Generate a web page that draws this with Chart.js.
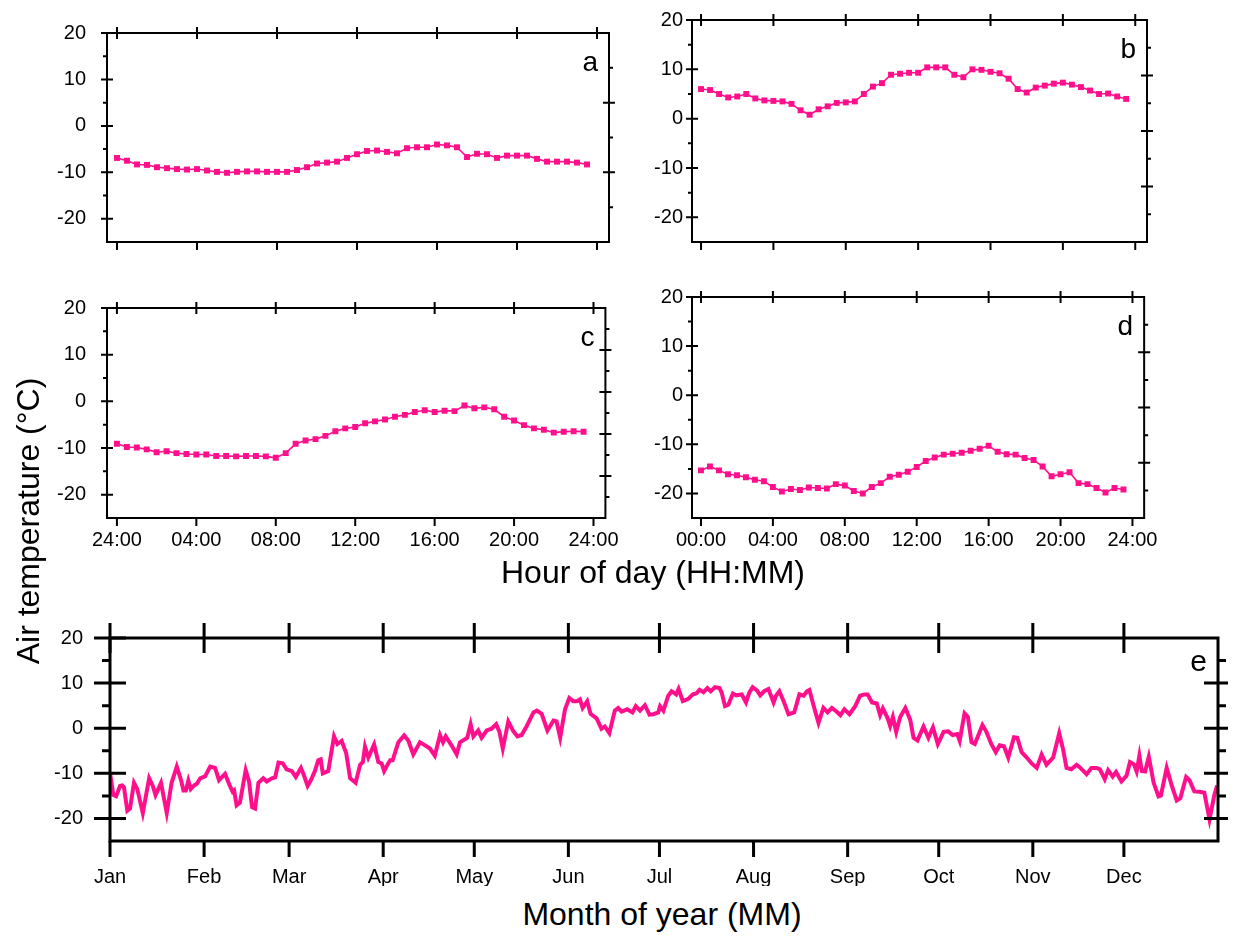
<!DOCTYPE html>
<html>
<head>
<meta charset="utf-8">
<script src="https://cdn.jsdelivr.net/npm/chart.js@4.4.1/dist/chart.umd.min.js"></script>
<style>
  body { margin: 0; background: #fff; }
  #page { position: relative; width: 1247px; height: 936px; overflow: hidden; background: #fff; font-family: "Liberation Sans", Arial, sans-serif; }
  canvas { position: absolute; }
  .title { position: absolute; color: #000; white-space: nowrap; text-align: center; }
</style>
</head>
<body>
<div id="page">
  <canvas id="chartA"></canvas>
  <canvas id="chartB"></canvas>
  <canvas id="chartC"></canvas>
  <canvas id="chartD"></canvas>
  <canvas id="chartE"></canvas>
  <div class="title" style="left:-172px; top:505px; width:400px; font-size:32px; line-height:32px; transform:rotate(-90deg);">Air temperature (°C)</div>
  <div class="title" style="left:453px; top:556px; width:400px; font-size:32px; line-height:32px;">Hour of day (HH:MM)</div>
  <div class="title" style="left:462px; top:898px; width:400px; font-size:32px; line-height:32px;">Month of year (MM)</div>
</div>

<script>
// --- DATA ---

// half-hourly time of day (hours)
const hours = [0, 0.5, 1, 1.5, 2, 2.5, 3, 3.5, 4, 4.5, 5, 5.5, 6, 6.5, 7, 7.5,
               8, 8.5, 9, 9.5, 10, 10.5, 11, 11.5, 12, 12.5, 13, 13.5, 14, 14.5, 15, 15.5,
               16, 16.5, 17, 17.5, 18, 18.5, 19, 19.5, 20, 20.5, 21, 21.5, 22, 22.5, 23, 23.5];

// mean daily cycles, panels a-d (°C)
const tempA = [-6.9, -7.5, -8.3, -8.4, -8.9, -9.1, -9.3, -9.4, -9.3, -9.6, -9.9, -10.1, -9.9, -9.8, -9.8, -9.9,
               -9.9, -9.9, -9.5, -8.9, -8.1, -7.9, -7.7, -6.9, -6.1, -5.4, -5.3, -5.6, -5.9, -4.8, -4.6, -4.6,
               -4.0, -4.2, -4.6, -6.7, -6.0, -6.1, -6.9, -6.4, -6.4, -6.4, -7.1, -7.7, -7.7, -7.7, -7.9, -8.3];
const tempB = [6.0, 5.8, 5.0, 4.3, 4.5, 5.0, 4.1, 3.7, 3.6, 3.5, 3.0, 1.7, 0.8, 1.9, 2.5, 3.2,
               3.3, 3.5, 5.0, 6.5, 7.2, 8.9, 9.1, 9.3, 9.3, 10.4, 10.4, 10.4, 8.9, 8.4, 10.0, 9.9,
               9.5, 9.2, 8.1, 6.0, 5.3, 6.3, 6.7, 7.1, 7.3, 6.9, 6.4, 5.7, 5.0, 5.1, 4.5, 4.0];
const tempC = [-9.1, -9.8, -9.9, -10.3, -10.9, -10.7, -11.1, -11.3, -11.4, -11.4, -11.7, -11.7, -11.8, -11.7, -11.7, -11.8,
               -12.1, -11.1, -9.1, -8.4, -8.1, -7.4, -6.4, -5.8, -5.5, -4.7, -4.3, -3.9, -3.3, -2.9, -2.3, -1.9,
               -2.3, -2.0, -2.1, -0.9, -1.5, -1.3, -1.7, -3.3, -4.1, -5.1, -5.8, -6.1, -6.7, -6.5, -6.4, -6.5];
const tempD = [-15.3, -14.5, -15.3, -16.1, -16.3, -16.7, -17.2, -17.5, -18.7, -19.6, -19.1, -19.3, -18.8, -18.9, -19.0, -18.1,
               -18.4, -19.5, -20.0, -18.7, -17.9, -16.6, -16.2, -15.6, -14.6, -13.4, -12.7, -12.1, -11.9, -11.7, -11.3, -10.9,
               -10.3, -11.5, -12.0, -12.1, -12.8, -13.2, -14.5, -16.5, -16.1, -15.7, -17.9, -18.1, -18.9, -19.8, -18.9, -19.2];

// daily series, panel e (day of year, °C) - read at the turning points of the trace
const eDay = [0, 1.1, 2.0, 3.3, 4.0, 4.6, 5.7, 6.6, 7.9, 9.0, 10.8, 12.9, 14.1, 15.0, 16.8, 18.7, 20.3, 22.0, 23.4, 24.2,
              25.0, 25.8, 26.6, 27.7, 28.6, 29.7, 31.3, 33.0, 34.6, 35.1, 35.9, 37.9, 39.5, 40.4, 40.9, 41.7, 42.8, 44.7, 45.8, 46.8,
              47.8, 48.9, 50.5, 51.6, 53.3, 54.4, 55.5, 56.9, 58.2, 59.9, 61.2, 62.9, 63.7, 65.1, 66.2, 67.5, 68.6, 69.4, 70.1, 71.9,
              73.8, 74.9, 76.3, 77.8, 79.1, 80.9, 82.4, 83.3, 84.0, 85.1, 87.0, 88.4, 89.5, 90.3, 91.4, 92.3, 93.1, 95.0, 96.9, 98.3,
              99.9, 102.1, 103.8, 105.4, 107.0, 108.7, 109.7, 110.6, 112.5, 114.2, 115.3, 117.7, 118.8, 119.7, 121.3, 122.4, 124.1, 125.7, 127.2, 128.3,
              129.4, 131.2, 132.7, 134.2, 135.6, 137.3, 139.5, 140.6, 142.2, 144.1, 145.0, 146.1, 147.1, 148.3, 149.9, 151.3, 152.6, 153.9, 154.8, 155.7,
              157.2, 158.3, 160.3, 161.9, 163.0, 164.5, 166.3, 167.4, 168.5, 170.4, 172.1, 173.2, 174.6, 176.2, 177.7, 179.0, 180.6, 181.2, 182.3, 183.9,
              185.0, 186.5, 187.3, 188.7, 190.5, 192.0, 193.1, 194.2, 195.5, 196.8, 197.9, 199.3, 200.8, 201.5, 202.6, 203.7, 205.2, 206.3, 208.1, 209.5,
              210.6, 211.7, 213.1, 214.2, 215.5, 216.9, 218.6, 219.4, 220.5, 221.9, 223.5, 225.4, 227.1, 228.5, 229.6, 230.4, 232.0, 233.4, 235.0, 236.4,
              237.8, 239.3, 240.6, 241.9, 243.6, 245.5, 247.1, 248.5, 249.6, 251.0, 252.6, 253.7, 254.6, 256.2, 257.0, 257.9, 259.0, 260.3, 262.0, 263.6,
              264.7, 266.0, 268.0, 269.6, 271.1, 272.7, 274.6, 276.1, 277.6, 279.1, 279.9, 281.5, 282.6, 283.8, 284.9, 287.4, 288.7, 290.3, 291.8, 293.1,
              294.5, 295.9, 297.8, 298.9, 300.3, 302.0, 303.6, 305.3, 306.9, 308.5, 310.7, 312.7, 314.0, 315.1, 316.7, 318.4, 319.5, 321.7, 323.3, 325.0,
              326.1, 327.7, 328.8, 330.3, 331.4, 333.2, 334.9, 336.0, 337.3, 338.2, 339.1, 339.9, 341.0, 342.2, 343.8, 345.4, 346.2, 348.1, 349.8, 351.4,
              352.6, 354.5, 355.6, 357.2, 358.9, 360.5, 362.2, 363.8, 364.7];
const eTemp = [-9.8, -14.8, -15.1, -12.8, -12.7, -13.1, -18.3, -17.8, -12.1, -13.5, -18.8, -11.1, -12.8, -14.8, -12.1, -18.8, -12.1, -8.5, -11.5, -13.8,
               -13.8, -11.6, -13.5, -12.7, -12.3, -11.1, -10.7, -8.5, -8.8, -9.8, -11.5, -10.1, -12.8, -14.1, -13.8, -17.1, -16.5, -9.3, -11.8, -17.5,
               -17.8, -12.1, -11.1, -11.8, -11.1, -10.9, -7.6, -7.8, -9.1, -9.5, -10.8, -8.8, -10.1, -12.8, -11.5, -9.5, -7.1, -6.9, -10.0, -9.5,
               -1.8, -3.5, -2.8, -5.5, -11.1, -12.1, -8.1, -7.5, -4.1, -6.5, -3.6, -7.5, -7.8, -9.5, -8.1, -7.1, -7.1, -3.1, -1.6, -2.8,
               -5.8, -3.1, -3.8, -4.5, -6.1, -1.5, -3.1, -1.8, -3.8, -5.8, -3.1, -2.1, 0.9, -1.8, -0.5, -2.1, -0.5, -0.1, 0.9, -0.8,
               -4.5, 1.5, -0.5, -1.8, -1.5, 0.5, 3.5, 3.9, 3.2, -0.5, 0.5, 1.7, 1.5, -2.1, 4.2, 6.7, 6.0, 6.0, 6.4, 4.5,
               6.0, 3.2, 2.2, -0.1, 0.4, -1.1, 3.9, 4.5, 3.7, 4.2, 3.5, 4.9, 3.9, 5.1, 3.0, 3.1, 3.5, 4.9, 3.9, 7.2,
               8.2, 7.5, 8.7, 6.0, 6.5, 7.5, 7.7, 8.5, 8.0, 8.9, 8.2, 9.1, 8.9, 7.9, 4.9, 5.2, 7.7, 7.3, 7.5, 5.7,
               7.9, 9.1, 8.4, 7.3, 8.2, 8.7, 5.7, 7.2, 8.2, 6.0, 3.1, 3.5, 7.5, 7.2, 8.2, 8.5, 4.5, 1.2, 4.5, 3.5,
               4.5, 3.7, 2.9, 4.2, 3.1, 4.9, 7.2, 7.5, 7.5, 5.7, 5.5, 2.9, 4.4, 2.2, 0.5, 2.5, -0.8, 2.5, 4.5, 1.9,
               -2.1, -2.7, 0.4, -2.1, 0.2, -3.5, -0.8, -0.7, -1.5, -1.3, -2.8, 3.3, 2.5, -3.1, -3.5, 0.7, -0.8, -3.5, -5.3, -3.8,
               -4.0, -6.5, -2.0, -2.1, -5.3, -6.5, -7.8, -8.8, -5.8, -8.1, -6.5, -1.1, -4.8, -8.8, -9.1, -8.1, -8.7, -10.2, -8.8, -8.8,
               -9.1, -11.3, -9.3, -10.7, -9.7, -11.8, -10.5, -7.5, -8.0, -9.6, -6.1, -9.5, -9.6, -6.3, -12.1, -15.1, -14.9, -8.8, -12.8, -16.0,
               -15.5, -10.8, -11.5, -14.0, -14.1, -14.3, -20.2, -14.8, -12.7];

// tick labels
const hourTicks = [0, 4, 8, 12, 16, 20, 24];
const hourLabelsC = ['24:00', '04:00', '08:00', '12:00', '16:00', '20:00', '24:00'];
const hourLabelsD = ['00:00', '04:00', '08:00', '12:00', '16:00', '20:00', '24:00'];
const monthTicks = [0, 31, 59, 90, 120, 151, 181, 212, 243, 273, 304, 334];
const monthLabels = ['Jan', 'Feb', 'Mar', 'Apr', 'May', 'Jun', 'Jul', 'Aug', 'Sep', 'Oct', 'Nov', 'Dec'];
const tempTicks = [-20, -10, 0, 10, 20];
const tempMinor = [-15, -5, 5, 15];

// --- STYLE ---
const PINK = '#ff0f8c';
Chart.defaults.font.family = '"Liberation Sans", Arial, sans-serif';
Chart.defaults.font.size = 20;
Chart.defaults.color = '#000';

// Origin-style frame: box, crossing major ticks, outward minor ticks, panel letter
const framePlugin = {
    id: 'frame',
    afterDraw(chart, args, o) {
        const ctx = chart.ctx, a = chart.chartArea;
        const sx = chart.scales.x, sy = chart.scales.y, sy2 = chart.scales.y2;
        ctx.save();
        ctx.strokeStyle = '#000';
        ctx.lineWidth = o.lw;
        ctx.strokeRect(a.left, a.top, a.right - a.left, a.bottom - a.top);
        ctx.beginPath();
        o.xTicks.forEach(v => {
            const px = sx.getPixelForValue(v);
            ctx.moveTo(px, a.top - o.topOut); ctx.lineTo(px, a.top + o.topIn);
            ctx.moveTo(px, a.bottom); ctx.lineTo(px, a.bottom + o.botOut);
        });
        tempTicks.forEach(v => {
            const py = sy.getPixelForValue(v);
            ctx.moveTo(a.left - o.majOut, py); ctx.lineTo(a.left + o.majIn, py);
        });
        tempMinor.forEach(v => {
            const py = sy.getPixelForValue(v);
            ctx.moveTo(a.left - o.minOut, py); ctx.lineTo(a.left, py);
        });
        o.rMajor.forEach(v => {
            const py = sy2.getPixelForValue(v);
            ctx.moveTo(a.right - o.rMajIn, py); ctx.lineTo(a.right + o.rMajOut, py);
        });
        o.rMinor.forEach(v => {
            const py = sy2.getPixelForValue(v);
            ctx.moveTo(a.right, py); ctx.lineTo(a.right + o.minOut, py);
        });
        ctx.stroke();
        ctx.fillStyle = '#000';
        ctx.font = o.letterSize + 'px "Liberation Sans", Arial, sans-serif';
        ctx.textAlign = 'right';
        ctx.textBaseline = 'alphabetic';
        ctx.fillText(o.letter, a.right - o.letterDx, a.top + o.letterDy);
        ctx.restore();
    }
};

function makePanel(id, box, spec) {
    const cv = document.getElementById(id);
    const w = box.R - box.L + 90, h = box.B - box.T + 18 + 45;
    cv.width = w; cv.height = h;
    cv.style.left = (box.L - 70) + 'px';
    cv.style.top = (box.T - 18) + 'px';
    cv.style.width = w + 'px'; cv.style.height = h + 'px';

    return new Chart(cv, {
        type: 'line',
        data: { datasets: [spec.dataset] },
        options: {
            responsive: false,
            animation: false,
            devicePixelRatio: 1,
            layout: { padding: { top: 18, left: 0, right: 0, bottom: 0 } },
            plugins: { legend: { display: false }, tooltip: { enabled: false }, frame: spec.frame },
            scales: {
                x: {
                    type: 'linear', min: spec.xMin, max: spec.xMax,
                    grid: { display: false, drawTicks: false }, border: { display: false },
                    afterBuildTicks: s => { s.ticks = spec.xTicks.map(v => ({ value: v })); },
                    afterFit: s => { s.height = 45; },
                    ticks: { display: !!spec.xLabels, padding: spec.xPad, maxRotation: 0, autoSkip: false,
                             callback: (v, i) => spec.xLabels ? spec.xLabels[i] : '' }
                },
                y: {
                    min: -25, max: 20,
                    grid: { display: false, drawTicks: false }, border: { display: false },
                    afterBuildTicks: s => { s.ticks = tempTicks.map(v => ({ value: v })); },
                    afterFit: s => { s.width = 70; },
                    ticks: { padding: spec.yPad, callback: v => String(v) }
                },
                y2: {
                    position: 'right', min: spec.r.min, max: spec.r.max,
                    grid: { display: false, drawTicks: false }, border: { display: false },
                    ticks: { display: false },
                    afterFit: s => { s.width = 20; }
                }
            }
        },
        plugins: [framePlugin]
    });
}

function hourSet(temps) {
    return {
        data: hours.map((hr, i) => ({ x: hr, y: temps[i] })),
        borderColor: PINK, backgroundColor: PINK, borderWidth: 1.6,
        pointStyle: 'rect', pointRadius: 4.2, pointBorderWidth: 0,
        pointBackgroundColor: PINK, tension: 0
    };
}

function smallFrame(letter, rMax) {
    const rMajor = [], rMinor = [];
    for (let k = 1; k < rMax; k++) (k % 2 === 0 ? rMajor : rMinor).push(k);
    return { lw: 2, xTicks: hourTicks, topOut: 6, topIn: 6, botOut: 8,
             majOut: 6, majIn: 6, minOut: 4, rMajor, rMinor, rMajIn: 6, rMajOut: 6,
             letter, letterSize: 28, letterDx: 11, letterDy: 38 };
}

makePanel('chartA', { L: 107, T: 18, R: 609, B: 242 }, {
    dataset: hourSet(tempA), xMin: -0.5, xMax: 24.6, xTicks: hourTicks, xLabels: null, xPad: 10, yPad: 21,
    r: { min: 0, max: 6 }, frame: smallFrame('a', 6)
});
makePanel('chartB', { L: 692, T: 17, R: 1147, B: 242 }, {
    dataset: hourSet(tempB), xMin: -0.5, xMax: 24.65, xTicks: hourTicks, xLabels: null, xPad: 10, yPad: 9,
    r: { min: 0, max: 8 }, frame: smallFrame('b', 8)
});
makePanel('chartC', { L: 107, T: 293, R: 609, B: 518 }, {
    dataset: hourSet(tempC), xMin: -0.5, xMax: 24.6, xTicks: hourTicks, xLabels: hourLabelsC, xPad: 10, yPad: 21,
    r: { min: 0, max: 10 }, frame: smallFrame('c', 10)
});
makePanel('chartD', { L: 692, T: 294, R: 1148, B: 518 }, {
    dataset: hourSet(tempD), xMin: -0.5, xMax: 24.65, xTicks: hourTicks, xLabels: hourLabelsD, xPad: 10, yPad: 9,
    r: { min: 0, max: 8 }, frame: smallFrame('d', 8)
});
makePanel('chartE', { L: 110, T: 617, R: 1218, B: 841 }, {
    dataset: {
        data: eDay.map((d, i) => ({ x: d, y: eTemp[i] })),
        borderColor: PINK, borderWidth: 4, pointRadius: 0, tension: 0
    },
    xMin: 0, xMax: 365, xTicks: monthTicks, xLabels: monthLabels, xPad: 24, yPad: 27,
    r: { min: -25, max: 20 },
    frame: { lw: 3, xTicks: monthTicks, topOut: 15, topIn: 15, botOut: 16,
             majOut: 16, majIn: 16, minOut: 8, rMajor: [-20, -10, 0, 10], rMinor: tempMinor, rMajIn: 14, rMajOut: 10,
             letter: 'e', letterSize: 30, letterDx: 11, letterDy: 33 }
});
</script>
</body>
</html>
